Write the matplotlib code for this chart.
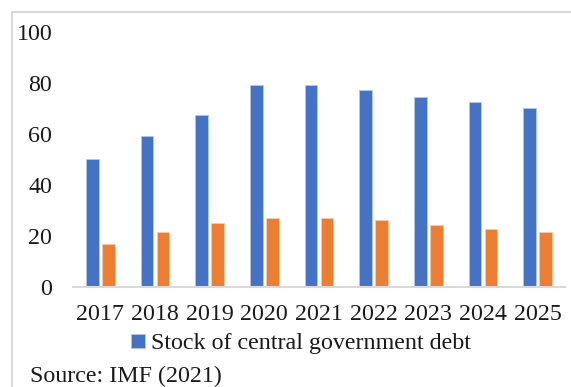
import matplotlib
matplotlib.use("Agg")
import matplotlib.pyplot as plt
from matplotlib.patches import Rectangle
import numpy as np

years = ["2017", "2018", "2019", "2020", "2021", "2022", "2023", "2024", "2025"]
central_debt = [50.2, 59.3, 67.5, 79.1, 79.1, 77.1, 74.4, 72.4, 70.1]
other_debt = [17.0, 21.6, 25.1, 27.2, 27.2, 26.1, 24.2, 22.6, 21.6]
y_ticks = [0, 20, 40, 60, 80, 100]

plt.rcParams["font.family"] = ["Liberation Serif", "DejaVu Serif"]
FS = 17.3

fig = plt.figure(figsize=(5.71, 3.87), dpi=100)
ax = fig.add_axes([73 / 571, 1 - 287 / 387, (565 - 73) / 571, (287 - 32) / 387])

x = np.arange(len(years))
w = 0.23
off = 0.146
blue = ax.bar(x - off, central_debt, width=w, color="#4472C4",
              edgecolor="#b4c7e7", linewidth=0.6,
              label="Stock of central government debt")
ax.bar(x + off, other_debt, width=w, color="#ED7D31",
       edgecolor="#f8cbad", linewidth=0.6)

ax.set_xlim(-0.5, len(years) - 0.5)
ax.set_ylim(0, 100)
ax.set_yticks(y_ticks)
ax.set_xticks(x)
ax.set_xticklabels(years)
ax.tick_params(axis="both", length=0, labelsize=FS, colors="#1a1a1a")
ax.tick_params(axis="y", pad=15)
ax.tick_params(axis="x", pad=12.5)
for s in ["top", "right", "left"]:
    ax.spines[s].set_visible(False)
ax.spines["bottom"].set_color("#d9d9d9")
ax.spines["bottom"].set_linewidth(1.5)

leg = fig.legend(handles=[blue], loc="center", bbox_to_anchor=(301 / 571, 1 - 344 / 387),
                 frameon=False, fontsize=FS, handlelength=0.55, handleheight=0.55,
                 handletextpad=0.25, borderpad=0)
for t in leg.get_texts():
    t.set_color("#1a1a1a")

fig.text(30 / 571, 1 - 376 / 387, "Source: IMF (2021)", fontsize=FS,
         va="center", ha="left", color="#1a1a1a")

fig.patches.append(Rectangle((12 / 571, -0.2), 1.2, 1 - 12 / 387 + 0.2,
                             transform=fig.transFigure, fill=False,
                             edgecolor="#d9d9d9", linewidth=1.5))

fig.savefig("out.png", dpi=100)
